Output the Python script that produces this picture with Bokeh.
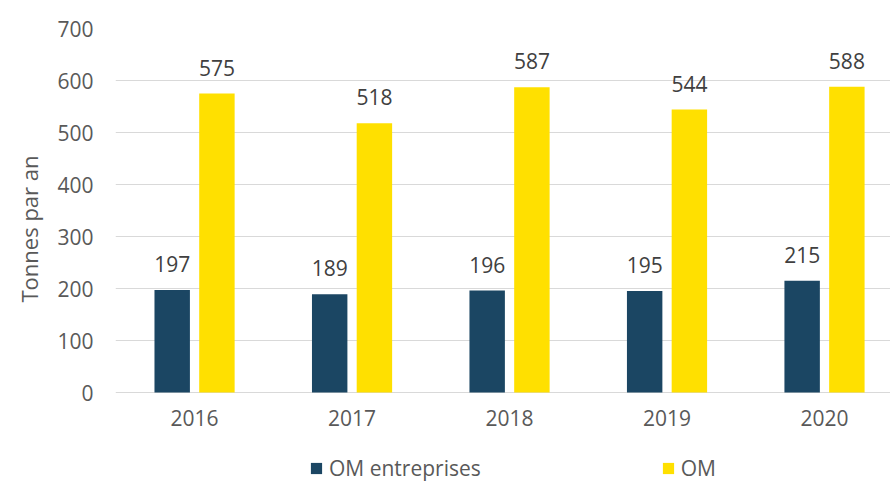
from bokeh.plotting import figure
from bokeh.models import (ColumnDataSource, FixedTicker, Range1d, Legend, LegendItem, Title)
from bokeh.transform import dodge
from bokeh.core.properties import value
from bokeh.embed import file_html
from bokeh.resources import INLINE

years = [2016, 2017, 2018, 2019, 2020]
om_entreprises = [197, 189, 196, 195, 215]
om = [575, 518, 587, 544, 588]
series_names = ["OM entreprises", "OM"]
y_ticks = [0, 100, 200, 300, 400, 500, 600, 700]
y_label = "Tonnes par an"

NAVY = "#1B4663"
YELLOW = "#FFE000"
FONT = "Open Sans"
AXIS_TXT = "#595959"
LABEL_TXT = "#404040"

src = ColumnDataSource(dict(
    year=years,
    ent=om_entreprises,
    om=om,
    ent_txt=[str(v) for v in om_entreprises],
    om_txt=[str(v) for v in om],
))

p = figure(width=890, height=483, output_backend="svg", toolbar_location=None,
           x_range=Range1d(2015.498, 2020.419), y_range=Range1d(-175, 700),
           min_border_left=115, min_border_right=0, min_border_top=28,
           min_border_bottom=0)
p.outline_line_color = None
p.background_fill_color = "white"
p.border_fill_color = "white"

off = 0.142
w = 0.225
r1 = p.vbar(x=dodge("year", -off, range=p.x_range), top="ent", bottom=0, width=w,
            source=src, fill_color=NAVY, line_color=None)
r2 = p.vbar(x=dodge("year", off, range=p.x_range), top="om", bottom=0, width=w,
            source=src, fill_color=YELLOW, line_color=None)

for xcol, ycol, tcol in ((-off, "ent", "ent_txt"), (off, "om", "om_txt")):
    p.text(x=dodge("year", xcol, range=p.x_range), y=ycol, text=tcol, source=src,
           text_font=value(FONT), text_font_size="21px", text_color=LABEL_TXT,
           text_align="center", text_baseline="bottom", y_offset=-18)

# axes
p.xaxis.ticker = FixedTicker(ticks=years)
p.xaxis.fixed_location = 0
p.yaxis.ticker = FixedTicker(ticks=y_ticks)
for ax in (p.xaxis, p.yaxis):
    ax.axis_line_color = None
    ax.major_tick_line_color = None
    ax.minor_tick_line_color = None
    ax.major_tick_out = 0
    ax.major_tick_in = 0
    ax.major_label_text_font = FONT
    ax.major_label_text_font_size = "21px"
    ax.major_label_text_color = AXIS_TXT
p.xaxis.major_label_standoff = 17
p.yaxis.major_label_standoff = 22

ytitle = Title(text=y_label, align="left", offset=181, standoff=21,
               text_font=FONT, text_font_size="22px", text_font_style="normal",
               text_color=AXIS_TXT)
p.add_layout(ytitle, "left")

p.xgrid.grid_line_color = None
p.ygrid.grid_line_color = "#D9D9D9"
p.ygrid.grid_line_width = 1

legend = Legend(items=[LegendItem(label=series_names[0], renderers=[r1]),
                       LegendItem(label=series_names[1], renderers=[r2])],
                orientation="horizontal", location=(194, 1),
                glyph_width=14, glyph_height=14, label_standoff=6, spacing=180,
                padding=0, margin=0, border_line_color=None,
                background_fill_alpha=0,
                label_text_font=FONT, label_text_font_size="21px",
                label_text_color=AXIS_TXT)
p.add_layout(legend, "center")

open("out.html", "w").write(file_html(p, INLINE))
